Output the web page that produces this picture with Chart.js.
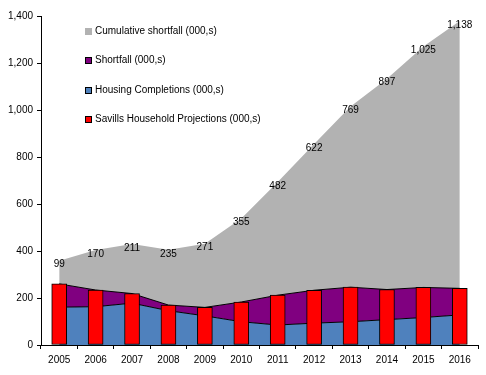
<!DOCTYPE html>
<html>
<head>
<meta charset="utf-8">
<script src="https://cdn.jsdelivr.net/npm/chart.js@4.4.1/dist/chart.umd.min.js"></script>
<style>
  html, body { margin: 0; padding: 0; background: #fff; }
  #wrap { position: relative; width: 486px; height: 375px; }
  #legend { position: absolute; left: 85px; top: 0; font: 10px "Liberation Sans", Arial, sans-serif; color: #000; }
  .item { position: absolute; left: 0; white-space: nowrap; height: 12px; line-height: 12px; }
  .box { display: inline-block; width: 5px; height: 5px; margin-right: 3px; vertical-align: -1px; }
</style>
</head>
<body>
<div id="wrap">
  <canvas id="chart" width="486" height="375"></canvas>
  <div id="legend"></div>
</div>
<script>
// values in thousands
const years = ['2005', '2006', '2007', '2008', '2009', '2010', '2011', '2012', '2013', '2014', '2015', '2016'];
const projections = [260, 234, 219, 170, 160, 183, 212, 233, 246, 236, 245, 241];
const completions = [161, 163, 178, 146, 124, 99, 85, 93, 99, 108, 117, 128];
const shortfall = [99, 71, 41, 24, 36, 84, 127, 140, 147, 128, 128, 113];
const cumulative = [99, 170, 211, 235, 271, 355, 482, 622, 769, 897, 1025, 1138];

const yTicks = { min: 0, max: 1400, step: 200 };

Chart.defaults.font.family = '"Liberation Sans", Arial, sans-serif';
Chart.defaults.font.size = 10;
Chart.defaults.color = '#000';

// draws the cumulative numbers on top of the grey area
const cumLabels = {
    id: 'cumLabels',
    afterDatasetsDraw(chart) {
        const meta = chart.getDatasetMeta(3);
        const ctx = chart.ctx;
        ctx.save();
        ctx.font = '10px "Liberation Sans", Arial, sans-serif';
        ctx.fillStyle = '#000';
        ctx.textAlign = 'center';
        ctx.textBaseline = 'middle';
        meta.data.forEach((pt, i) => {
            ctx.fillText(cumulative[i].toLocaleString('en-US'), pt.x, pt.y + 4);
        });
        ctx.restore();
    }
};

const ctx = document.getElementById('chart').getContext('2d');
const chart = new Chart(ctx, {
    data: {
        labels: years,
        datasets: [
            {
                type: 'bar',
                label: 'Savills Household Projections (000,s)',
                data: projections,
                backgroundColor: '#FF0000',
                borderColor: '#000',
                borderWidth: 1,
                borderSkipped: false,
                barThickness: 15,
                stack: 'bars',
                order: 0
            },
            {
                type: 'line',
                label: 'Housing Completions (000,s)',
                data: completions,
                backgroundColor: '#4F81BD',
                borderColor: '#000',
                borderWidth: 1,
                fill: 'origin',
                pointRadius: 0,
                tension: 0,
                stack: 'areas',
                order: 1
            },
            {
                type: 'line',
                label: 'Shortfall (000,s)',
                data: shortfall,
                backgroundColor: '#800080',
                borderColor: '#000',
                borderWidth: 1,
                fill: '-1',
                pointRadius: 0,
                tension: 0,
                stack: 'areas',
                order: 1
            },
            {
                type: 'line',
                label: 'Cumulative shortfall (000,s)',
                data: cumulative,
                backgroundColor: '#B2B2B2',
                borderColor: '#B2B2B2',
                borderWidth: 0,
                fill: '-1',
                pointRadius: 0,
                tension: 0,
                stack: 'areas',
                order: 1
            }
        ]
    },
    options: {
        responsive: false,
        animation: false,
        layout: { padding: { top: 16, right: 8, left: 0, bottom: 0 } },
        plugins: {
            legend: { display: false },
            tooltip: { enabled: false }
        },
        scales: {
            x: {
                type: 'category',
                offset: true,
                grid: { display: true, drawOnChartArea: false, offset: true, tickLength: 4, color: '#000' },
                border: { display: true, color: '#000', width: 1 },
                ticks: { maxRotation: 0, autoSkip: false, padding: 5, font: { size: 10 } },
                afterFit: (scale) => { scale.height = 30; }
            },
            y: {
                stacked: true,
                min: yTicks.min,
                max: yTicks.max,
                grid: { display: true, drawOnChartArea: false, tickLength: 4, color: '#000' },
                border: { display: true, color: '#000', width: 1 },
                ticks: { stepSize: yTicks.step, padding: 4, font: { size: 10 } },
                afterFit: (scale) => { scale.width = 41; }
            }
        }
    },
    plugins: [cumLabels]
});

// legend inside the plot, top-left, listed from the top series down
const legendEl = document.getElementById('legend');
const legendOrder = [3, 2, 1, 0];
legendOrder.forEach((idx, i) => {
    const ds = chart.data.datasets[idx];
    const item = document.createElement('div');
    item.className = 'item';
    item.style.top = (25 + i * 29.4) + 'px';
    const box = document.createElement('span');
    box.className = 'box';
    box.style.background = ds.backgroundColor;
    box.style.border = idx === 3 ? '1px solid ' + ds.backgroundColor : '1px solid #000';
    item.appendChild(box);
    item.appendChild(document.createTextNode(ds.label));
    legendEl.appendChild(item);
});
</script>
</body>
</html>
